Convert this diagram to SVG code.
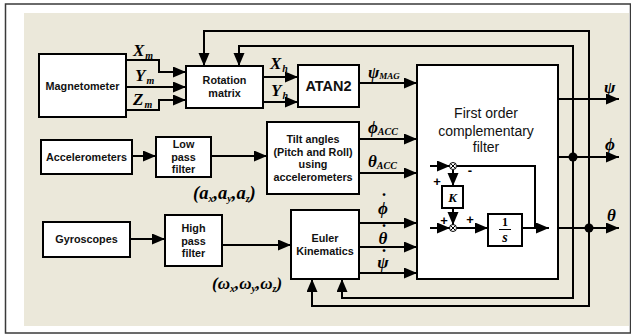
<svg xmlns="http://www.w3.org/2000/svg" width="631" height="334" viewBox="0 0 631 334">
<defs>
<marker id="ah" markerUnits="userSpaceOnUse" markerWidth="14" markerHeight="12" refX="13" refY="5.5" orient="auto">
<path d="M0,0 L13,5.5 L0,11 z" fill="#000"/>
</marker>
<style>
.box{fill:#fff;stroke:#000;stroke-width:2}
.lbl{font-family:"Liberation Sans",Arial,sans-serif;font-weight:bold;font-size:10.8px;text-anchor:middle;fill:#111}
.big{font-family:"Liberation Sans",Arial,sans-serif;font-size:14px;text-anchor:middle;fill:#111}
.m{font-family:"Liberation Serif","Times New Roman",serif;font-weight:bold;font-style:italic;font-size:17px;fill:#000}
.sub{font-size:10px}
.w{fill:none;stroke:#000;stroke-width:2}
.a{marker-end:url(#ah)}
.sg{font-family:"Liberation Sans",Arial,sans-serif;font-weight:bold;font-size:13px;text-anchor:middle}
.dot{font-family:"Liberation Serif","Times New Roman",serif;font-weight:bold;font-size:18px;text-anchor:middle}
</style>
</defs>
<rect x="5.5" y="4" width="625" height="329" fill="#fff" stroke="#3a3a3a" stroke-width="1.5"/>
<rect x="24" y="13" width="605" height="313" fill="#EBE8DA"/>

<g id="connectors">
<polyline class="w a" points="126,60 159,60 159,72 186,72"/>
<polyline class="w a" points="126,87 186,87"/>
<polyline class="w a" points="126,110 159,110 159,100 186,100"/>
<polyline class="w a" points="263,77 298,77"/>
<polyline class="w a" points="263,102 298,102"/>
<polyline class="w a" points="359,83 417,83"/>
<polyline class="w a" points="132,156 156,156"/>
<polyline class="w a" points="211,156 267,156"/>
<polyline class="w a" points="359,139 417,139"/>
<polyline class="w a" points="359,173 417,173"/>
<polyline class="w a" points="130,239 165,239"/>
<polyline class="w a" points="222,245 291,245"/>
<polyline class="w a" points="359,223 417,223"/>
<polyline class="w a" points="359,247 417,247"/>
<polyline class="w a" points="359,273 417,273"/>
<polyline class="w a" points="558,99 619,99"/>
<polyline class="w a" points="558,157 619,157"/>
<polyline class="w a" points="558,228 619,228"/>
<polyline class="w a" points="589,228 589,31 204,31 204,66"/>
<polyline class="w a" points="589,228 589,306 312,306 312,279"/>
<polyline class="w a" points="573,157 573,46 239,46 239,66"/>
<polyline class="w a" points="573,157 573,298 342,298 342,279"/>
<circle cx="573" cy="157" r="4.5" fill="#000"/>
<circle cx="589" cy="228" r="4.5" fill="#000"/>
</g>

<g id="magnetometer"><rect class="box" x="39" y="54" width="87" height="63"/><text class="lbl" x="82.5" y="90">Magnetometer</text></g>
<g id="rotation"><rect class="box" x="186" y="66" width="77" height="42"/><text class="lbl" x="224.5" y="84">Rotation</text><text class="lbl" x="224.5" y="97">matrix</text></g>
<g id="atan2"><rect class="box" x="298" y="65" width="61" height="42"/><text class="lbl" x="328.5" y="91" style="font-size:14.5px">ATAN2</text></g>
<g id="accelerometers"><rect class="box" x="41" y="140" width="91" height="34"/><text class="lbl" x="86.5" y="161">Accelerometers</text></g>
<g id="lowpass"><rect class="box" x="156" y="137" width="55" height="40"/><text class="lbl" x="183.5" y="148">Low</text><text class="lbl" x="183.5" y="160.5">pass</text><text class="lbl" x="183.5" y="173">filter</text></g>
<g id="tilt"><rect class="box" x="267" y="122" width="92" height="72"/><text class="lbl" x="313" y="143">Tilt angles</text><text class="lbl" x="313" y="155.5">(Pitch and Roll)</text><text class="lbl" x="313" y="168">using</text><text class="lbl" x="313" y="180.5">accelerometers</text></g>
<g id="gyroscopes"><rect class="box" x="43" y="222" width="87" height="35"/><text class="lbl" x="86.5" y="243">Gyroscopes</text></g>
<g id="highpass"><rect class="box" x="165" y="215" width="57" height="51"/><text class="lbl" x="193.5" y="232">High</text><text class="lbl" x="193.5" y="244.5">pass</text><text class="lbl" x="193.5" y="257">filter</text></g>
<g id="euler"><rect class="box" x="291" y="210" width="68" height="69"/><text class="lbl" x="325" y="242">Euler</text><text class="lbl" x="325" y="255">Kinematics</text></g>

<g id="filter">
<rect class="box" x="417" y="65" width="141" height="214"/>
<text class="big" x="486" y="118">First order</text>
<text class="big" x="486" y="136">complementary</text>
<text class="big" x="486" y="152">filter</text>
<polyline class="w a" points="430,166 450,166"/>
<polyline class="w" points="457,166 535,166 535,228"/>
<polyline class="w a" points="453,170 453,186"/>
<polyline class="w a" points="453,208 453,225"/>
<polyline class="w a" points="430,228 450,228"/>
<polyline class="w a" points="457,228 488,228"/>
<polyline class="w a" points="522,228 549,228"/>
<g fill="#fff" stroke="#000" stroke-width="1">
<circle cx="453" cy="166" r="3.5"/><path d="M450.5,163.5 L455.5,168.5 M455.5,163.5 L450.5,168.5"/>
<circle cx="453" cy="228" r="3.5"/><path d="M450.5,225.5 L455.5,230.5 M455.5,225.5 L450.5,230.5"/>
</g>
<text class="sg" x="470" y="175">-</text>
<text class="sg" x="437" y="186">+</text>
<text class="sg" x="444" y="225">+</text>
<text class="sg" x="470" y="224">+</text>
<rect class="box" x="442" y="186" width="21" height="22"/>
<text class="m" x="452.5" y="202" text-anchor="middle" style="font-size:13px">K</text>
<rect class="box" x="488" y="214" width="34" height="32"/>
<text class="m" x="505" y="226" text-anchor="middle" style="font-size:12px;font-style:normal">1</text>
<line x1="499" y1="229.5" x2="511" y2="229.5" stroke="#000" stroke-width="1"/>
<text class="m" x="505" y="242" text-anchor="middle" style="font-size:14px">s</text>
</g>

<g id="labels">
<text class="m" x="133" y="56">X<tspan class="sub" dx="1" dy="3">m</tspan></text>
<text class="m" x="135" y="81">Y<tspan class="sub" dx="1" dy="3">m</tspan></text>
<text class="m" x="133" y="105">Z<tspan class="sub" dx="1" dy="3">m</tspan></text>
<text class="m" x="270" y="69">X<tspan class="sub" dx="1" dy="3">h</tspan></text>
<text class="m" x="271" y="96">Y<tspan class="sub" dx="1" dy="3">h</tspan></text>
<text class="m" x="368" y="78">ψ<tspan class="sub" dy="1" style="font-size:9px">MAG</tspan></text>
<text class="m" x="368" y="133">ϕ<tspan class="sub" dy="2" style="font-size:10px">ACC</tspan></text>
<text class="m" x="368" y="167">θ<tspan class="sub" dy="2" style="font-size:10px">ACC</tspan></text>
<text class="m" x="383" y="214" text-anchor="middle">ϕ</text>
<text class="dot" x="384" y="206">˙</text>
<text class="m" x="383" y="244" text-anchor="middle">θ</text>
<text class="dot" x="384" y="237">˙</text>
<text class="m" x="383" y="268" text-anchor="middle">ψ</text>
<text class="dot" x="384" y="262">˙</text>
<text class="m" x="193" y="199" style="font-size:18.5px">(a<tspan class="sub" dy="3">x</tspan><tspan dy="-3">,a</tspan><tspan class="sub" dy="3">y</tspan><tspan dy="-3">,a</tspan><tspan class="sub" dy="3">z</tspan><tspan dy="-3">)</tspan></text>
<text class="m" x="212" y="289">(ω<tspan class="sub" dy="3">x</tspan><tspan dy="-3">,ω</tspan><tspan class="sub" dy="3">y</tspan><tspan dy="-3">,ω</tspan><tspan class="sub" dy="3">z</tspan><tspan dy="-3">)</tspan></text>
<text class="m" x="604" y="93">ψ</text>
<text class="m" x="605" y="150">ϕ</text>
<text class="m" x="607" y="221">θ</text>
</g>
</svg>
